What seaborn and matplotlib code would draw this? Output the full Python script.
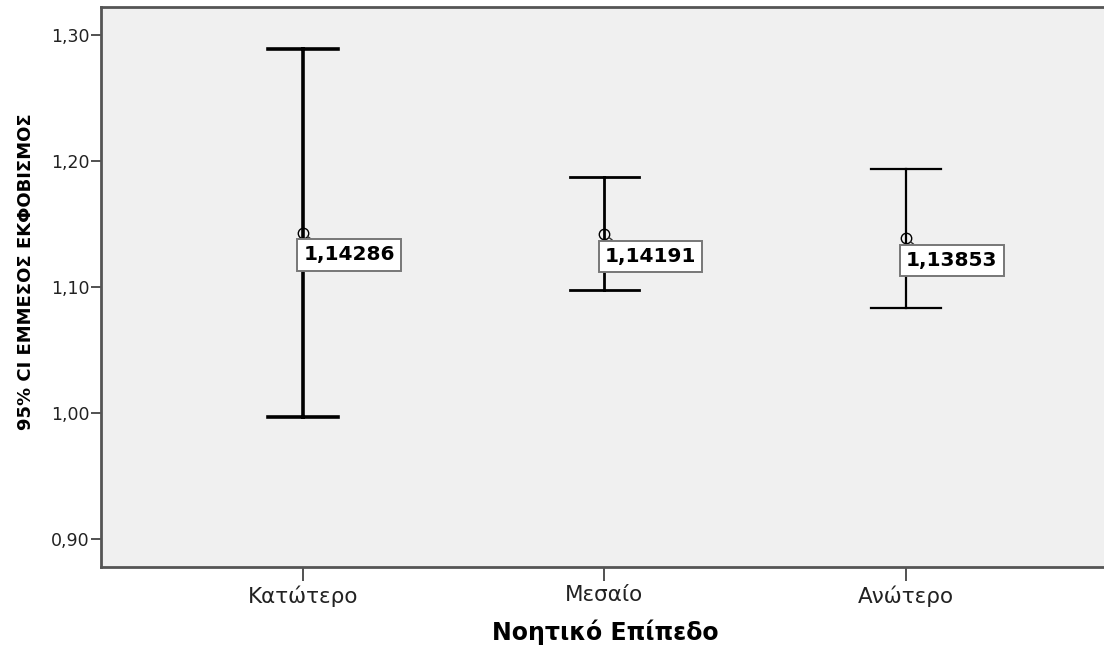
import pandas as pd
import matplotlib
matplotlib.use("Agg")
import matplotlib.pyplot as plt
import seaborn as sns

levels = ["Κατώτερο", "Μεσαίο", "Ανώτερο"]
means = [1.14286, 1.14191, 1.13853]
ci_low = [0.997, 1.0976, 1.0833]
ci_high = [1.2887, 1.1873, 1.1937]
y_ticks = [0.90, 1.00, 1.10, 1.20, 1.30]


def build_frame():
    rows = []
    for lev, lo, m, hi in zip(levels, ci_low, means, ci_high):
        for v in (lo, m, hi):
            rows.append({"level": lev, "value": v})
    return pd.DataFrame(rows)


def plot_ci(df):
    fig = plt.figure(figsize=(11.04, 6.5), dpi=100)
    ax = fig.add_axes([101 / 1104, 83 / 650, 1003 / 1104, 560 / 650])
    ax.set_facecolor("#f0f0f0")

    # median of (low, mean, high) is the mean, 100% interval is the CI
    sns.pointplot(data=df, x="level", y="value", order=levels, ax=ax,
                  estimator="median", errorbar=("pi", 100), capsize=0.23,
                  color="black", markers="o", linestyles="none",
                  markersize=7.5, markeredgewidth=1.0, markerfacecolor="none",
                  err_kws={"linewidth": 2})

    err_lines = [ln for ln in ax.lines if len(ln.get_xdata()) > 3]
    for ln, lw in zip(err_lines, [2.6, 2.0, 1.6]):
        ln.set_linewidth(lw)
    for ln in ax.lines:
        if len(ln.get_xdata()) <= 3:
            ln.set_markerfacecolor("none")
            ln.set_zorder(5)

    for i, m in enumerate(means):
        ax.annotate(f"{m:.5f}".replace(".", ","), xy=(i, m),
                    xytext=(46, -22), textcoords="offset pixels",
                    ha="center", va="center", fontsize=14.5, fontweight="bold",
                    bbox=dict(boxstyle="square,pad=0.3", fc="white",
                              ec="#777777", lw=1.4),
                    arrowprops=dict(arrowstyle="-", color="#333333", lw=1,
                                    relpos=(0.18, 1.0), shrinkA=0, shrinkB=4),
                    zorder=6)

    ax.set_xlim(-0.67, 2.657)
    ax.set_ylim(0.8778, 1.3222)
    ax.set_yticks(y_ticks)
    ax.set_yticklabels([f"{t:.2f}".replace(".", ",") for t in y_ticks])
    ax.tick_params(axis="y", direction="out", length=7, width=1.2,
                   color="#333333", labelsize=12.5, pad=1.5, labelcolor="#222222")
    ax.tick_params(axis="x", direction="out", length=10, width=1.2,
                   color="#333333", labelsize=15.5, pad=3, labelcolor="#222222")

    for side in ["left", "top", "bottom"]:
        ax.spines[side].set_color("#555555")
        ax.spines[side].set_linewidth(2)
    ax.spines["right"].set_visible(False)

    ax.set_xlabel("Νοητικό Επίπεδο", fontsize=17, fontweight="bold")
    ax.xaxis.set_label_coords(0.5025, -0.116)
    ax.xaxis.label.set_va("center")
    ax.set_ylabel("95% CI ΕΜΜΕΣΟΣ ΕΚΦΟΒΙΣΜΟΣ", fontsize=13, fontweight="bold")
    ax.yaxis.set_label_coords(-0.0748, 0.527)
    ax.yaxis.label.set_va("center")

    fig.savefig("out.png", dpi=100)


if __name__ == "__main__":
    plot_ci(build_frame())
